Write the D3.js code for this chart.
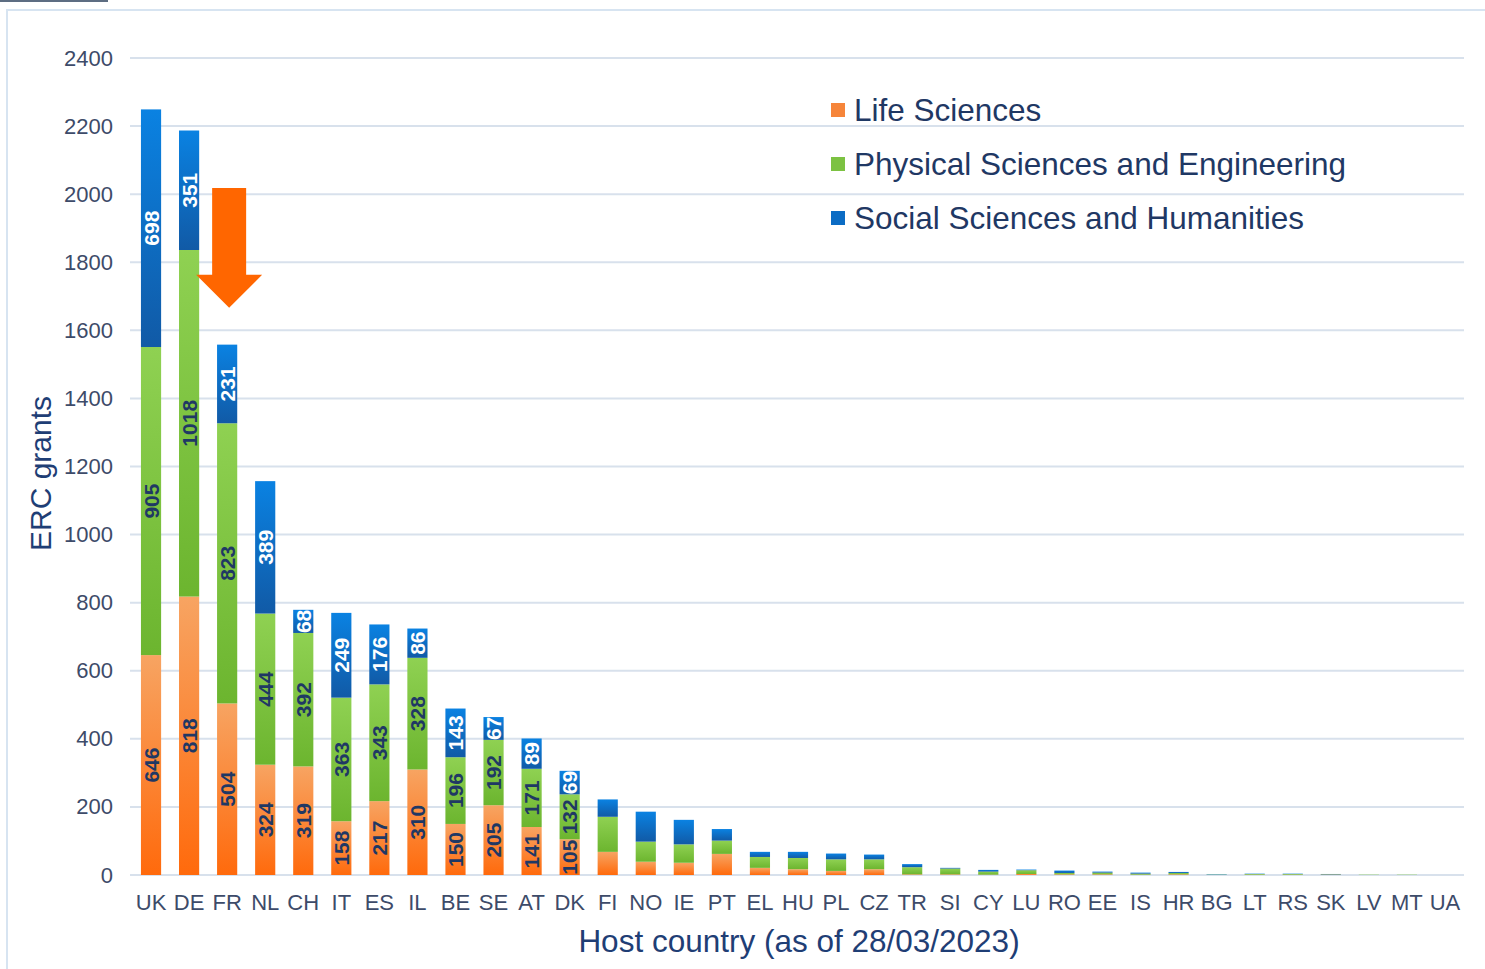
<!DOCTYPE html>
<html>
<head>
<meta charset="utf-8">
<script src="https://cdnjs.cloudflare.com/ajax/libs/d3/7.8.5/d3.min.js"></script>
<style>
  body { margin: 0; background: #fff; }
  svg { display: block; font-family: Arial, "Liberation Sans", sans-serif; }
</style>
</head>
<body>
<svg id="chart" width="1485" height="969"></svg>
<script>
const countries = ['UK','DE','FR','NL','CH','IT','ES','IL','BE','SE','AT','DK','FI','NO','IE','PT',
  'EL','HU','PL','CZ','TR','SI','CY','LU','RO','EE','IS','HR','BG','LT','RS','SK','LV','MT','UA'];
const lifeSci = [646, 818, 504, 324, 319, 158, 217, 310, 150, 205, 141, 105, 68, 39, 36, 62,
  21, 17, 12, 17, 2, 2, 1, 3, 2, 2, 1, 2, 0, 1, 1, 1, 0, 0, 0];
const physSci = [905, 1018, 823, 444, 392, 363, 343, 328, 196, 192, 171, 132, 103, 59, 54, 39,
  32, 33, 34, 29, 21, 17, 9, 11, 4, 5, 3, 4, 1, 2, 2, 1, 1, 1, 0];
const socSci = [698, 351, 231, 389, 68, 249, 176, 86, 143, 67, 89, 69, 51, 88, 72, 34,
  15, 18, 17, 14, 9, 2, 5, 2, 7, 3, 3, 3, 1, 1, 1, 1, 0, 0, 0];
const seriesNames = ['Life Sciences', 'Physical Sciences and Engineering', 'Social Sciences and Humanities'];
const yTicks = [0, 200, 400, 600, 800, 1000, 1200, 1400, 1600, 1800, 2000, 2200, 2400];
const labelledCount = 12; // only the first 12 countries carry value labels

const svg = d3.select('#chart');
const W = 1485, H = 969;
const margin = { top: 58, right: 21, bottom: 94, left: 132 };
const width = W - margin.left - margin.right;
const height = H - margin.top - margin.bottom;

// frame
svg.append('rect').attr('x', 7).attr('y', 10).attr('width', W).attr('height', H)
  .attr('fill', 'none').attr('stroke', '#d7e4f1').attr('stroke-width', 2);
svg.append('rect').attr('x', 0).attr('y', 0).attr('width', 108).attr('height', 2).attr('fill', '#5d6d82');

const defs = svg.append('defs');
const grads = [
  ['#f7a462', '#ff6a0c'],
  ['#8fd152', '#6cb52f'],
  ['#0a82e2', '#115aa6']
];
grads.forEach((c, i) => {
  const g = defs.append('linearGradient').attr('id', 'grad' + i)
    .attr('x1', 0).attr('y1', 0).attr('x2', 0).attr('y2', 1);
  g.append('stop').attr('offset', '0%').attr('stop-color', c[0]);
  g.append('stop').attr('offset', '100%').attr('stop-color', c[1]);
});
const legendColors = ['#f6853a', '#7cc242', '#0b6cc4'];

const rows = countries.map((c, i) => ({ country: c, s0: lifeSci[i], s1: physSci[i], s2: socSci[i] }));
const stack = d3.stack().keys(['s0', 's1', 's2']);
const series = stack(rows);

const x = d3.scaleBand().domain(countries).range([0, width]).paddingInner(0.47).paddingOuter(0.235);
const y = d3.scaleLinear().domain([0, 2400]).range([height, 0]);

const g = svg.append('g').attr('transform', `translate(${margin.left},${margin.top})`);

// gridlines
g.append('g').selectAll('line').data(yTicks).enter().append('line')
  .attr('x1', -2).attr('x2', width)
  .attr('y1', d => y(d)).attr('y2', d => y(d))
  .attr('stroke', '#d8e1ec').attr('stroke-width', 2);

// y axis labels
const yAxis = g.append('g').call(d3.axisLeft(y).tickValues(yTicks).tickFormat(d3.format('d')).tickSize(0).tickPadding(19));
yAxis.select('.domain').remove();
yAxis.selectAll('text').attr('font-size', 22).attr('fill', '#3d4b69')
  .attr('font-family', 'Arial, "Liberation Sans", sans-serif');

// x axis labels
const xAxis = g.append('g').attr('transform', `translate(0,${height})`)
  .call(d3.axisBottom(x).tickSize(0).tickPadding(19));
xAxis.select('.domain').remove();
xAxis.selectAll('text').attr('font-size', 22).attr('fill', '#3d4b69')
  .attr('font-family', 'Arial, "Liberation Sans", sans-serif');

// bars
series.forEach((s, si) => {
  g.append('g').selectAll('rect').data(s).enter().append('rect')
    .attr('x', d => x(d.data.country))
    .attr('width', x.bandwidth())
    .attr('y', d => y(d[1]))
    .attr('height', d => Math.max(0, y(d[0]) - y(d[1])))
    .attr('fill', `url(#grad${si})`);
});

// value labels
series.forEach((s, si) => {
  g.append('g').selectAll('text').data(s.slice(0, labelledCount)).enter().append('text')
    .attr('transform', d => {
      const cx = x(d.data.country) + x.bandwidth() / 2;
      const cy = (y(d[0]) + y(d[1])) / 2;
      return `translate(${cx},${cy}) rotate(-90)`;
    })
    .attr('text-anchor', 'middle').attr('dy', '0.36em')
    .attr('font-size', 21).attr('font-weight', 'bold')
    .attr('fill', si === 2 ? '#ffffff' : '#1f3864')
    .text(d => d[1] - d[0]);
});

// arrow pointing at FR
const ax = x('FR') + x.bandwidth() / 2 + 2;
const arrow = [
  [ax - 17, y(2018)], [ax + 17, y(2018)], [ax + 17, y(1763)], [ax + 33, y(1763)],
  [ax, y(1666)], [ax - 33, y(1763)], [ax - 17, y(1763)]
];
g.append('path').attr('d', d3.line()(arrow) + 'Z').attr('fill', '#ff6600');

// legend
const legend = svg.append('g').attr('transform', 'translate(831,110)');
seriesNames.forEach((n, i) => {
  const row = legend.append('g').attr('transform', `translate(0,${i * 54})`);
  row.append('rect').attr('x', 0).attr('y', -7).attr('width', 14).attr('height', 14).attr('fill', legendColors[i]);
  row.append('text').attr('x', 23).attr('y', 0).attr('dy', '0.35em')
    .attr('font-size', 31.5).attr('fill', '#1f3864').text(n);
});

// axis titles
svg.append('text')
  .attr('transform', `translate(51,${margin.top + y(1200) + 7}) rotate(-90)`)
  .attr('text-anchor', 'middle').attr('font-size', 30).attr('fill', '#1f3e75')
  .text('ERC grants');
svg.append('text').attr('x', 799).attr('y', 952)
  .attr('text-anchor', 'middle').attr('font-size', 31.5).attr('fill', '#1f3e75')
  .text('Host country (as of 28/03/2023)');
</script>
</body>
</html>
